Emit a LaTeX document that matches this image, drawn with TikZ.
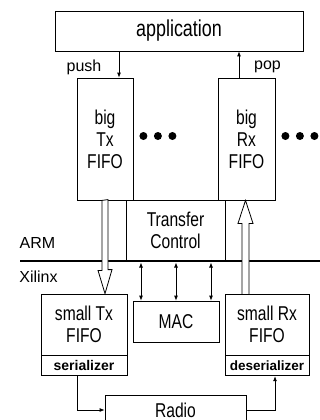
\documentclass[tikz,border=0pt]{standalone}
\usepackage{fontspec}
\setmainfont{Liberation Sans}[FakeStretch=0.78]
\newfontfamily\widefont{Liberation Sans}
\usetikzlibrary{arrows.meta,positioning}
\tikzset{
	block/.style={draw, line width=0.8pt, inner sep=0pt, align=center, font=\fontsize{20}{22}\selectfont},
	stage/.style={block, minimum height=20pt, font=\widefont\bfseries\fontsize{14}{16}\selectfont},
	tag/.style={inner sep=0pt, font=\widefont\fontsize{16}{18}\selectfont},
	sig/.style={line width=0.8pt},
	fat arrow/.style={draw, fill=white, line width=0.8pt}
}
\begin{document}
\begin{tikzpicture}[x=1pt, y=-1pt, >={Latex[length=5pt,width=4pt]}]
	\useasboundingbox (0,0) rectangle (320,420);
	\clip (0,0) rectangle (320,420);
	\node [block, minimum width=248pt, minimum height=40pt, font=\fontsize{23}{25}\selectfont] (app) at (179,31) {application};
	\node [block, minimum width=56pt, minimum height=122pt] (bigtx) at (105,139) {big\\Tx\\FIFO};
	\node [block, minimum width=57pt, minimum height=122pt] (bigrx) at (246.5,139) {big\\Rx\\FIFO};
	\node [block, minimum width=99pt, minimum height=60pt] (tc) at (175.5,230) {Transfer\\Control};
	\node [block, minimum width=86pt, minimum height=41pt] (mac) at (176,321.5) {MAC};
	\node [block, minimum width=86pt, minimum height=61pt] (stx) at (84,324.5) {small Tx\\FIFO};
	\node [stage, minimum width=86pt, below=0pt of stx] (ser) {serializer};
	\node [block, minimum width=84pt, minimum height=61pt] (srx) at (267,324.5) {small Rx\\FIFO};
	\node [stage, minimum width=84pt, below=0pt of srx, font=\widefont\bfseries\fontsize{13.5}{16}\selectfont] (deser) {deserializer};
	\node [block, minimum width=141pt, minimum height=30pt] (radio) at (175.5,410) {Radio};
	\node [tag] (push) at (84,67) {push};
	\node [tag] (pop) at (267.5,67) {pop};
	\node [tag] (arm) at (37.5,242.5) {ARM};
	\node [tag] (xilinx) at (38.5,277) {Xilinx};
	\coordinate (bl) at (20,261);
	\coordinate (br) at (320,261);
	\draw [line width=2pt] (bl) -- (br);
	\coordinate (pushx) at (119,0);
	\coordinate (popx) at (239,0);
	\draw [sig, ->] (app.south -| pushx) -- (bigtx.north -| pushx);
	\draw [sig, ->] (bigrx.north -| popx) -- (app.south -| popx);
	\draw [fat arrow] ([xshift=-3pt]bigtx.south) -- ++(0,70) -- ++(-4,0) -- (bigtx.south |- stx.north) -- ++(7,-24) -- ++(-4,0) -- ++(0,-70) -- cycle;
	\draw [fat arrow] ([xshift=-1pt]bigrx.south) -- ++(7.5,23) -- ++(-4,0) -- ++(0,71) -- ++(-7,0) -- ++(0,-71) -- ++(-4,0) -- cycle;
	\foreach \dx in {-35,0,35}{
	\draw [sig, <->] ([xshift=\dx pt, yshift=-1.5pt]mac.north |- bl) -- ([xshift=\dx pt]mac.north);
	}
	\foreach \dx in {10,24.5,39}{
	\fill ([shift={(\dx,-3)}]bigtx.east) circle (4pt);
	\fill ([shift={(\dx,-3)}]bigrx.east) circle (4pt);
	}
	\draw [sig, ->] ([xshift=-7pt]ser.south) |- (radio.west);
	\draw [sig, ->] (radio.east) -| ([xshift=8pt]deser.south);
\end{tikzpicture}
\end{document}
